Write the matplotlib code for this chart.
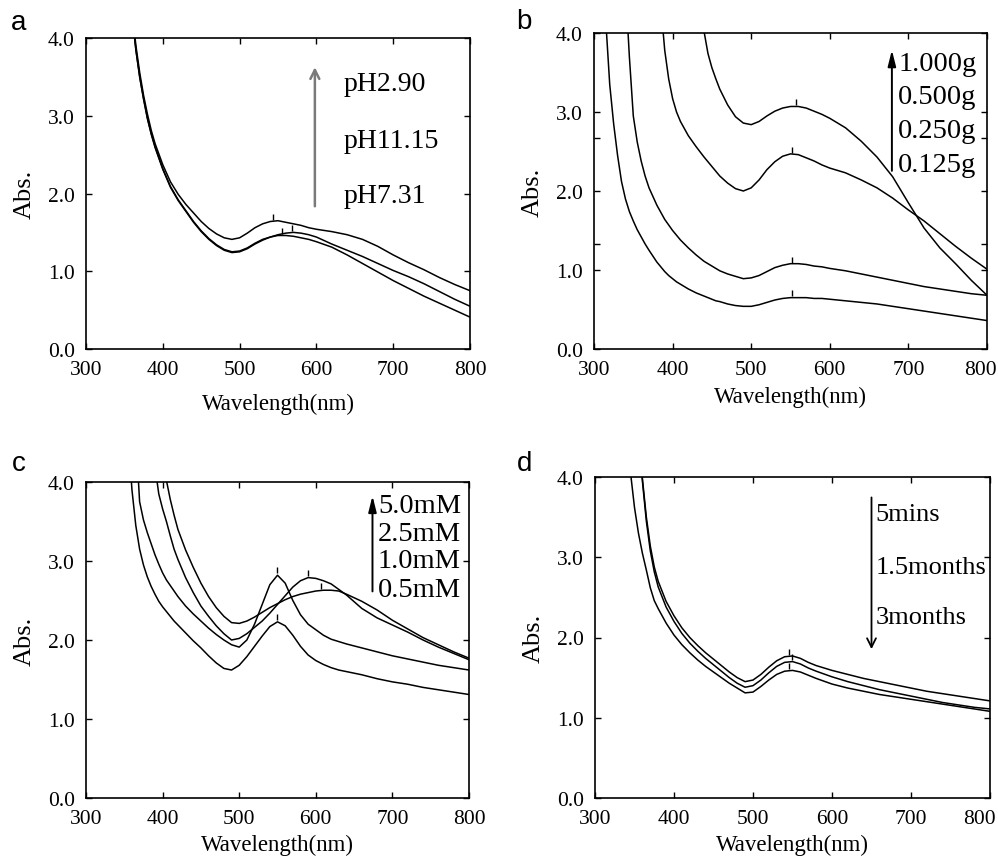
import numpy as np
import matplotlib
matplotlib.use("Agg")
import matplotlib.pyplot as plt
from matplotlib.transforms import ScaledTranslation

nan = np.nan

# ---- panel a: pH ----
wl_a = [360, 365, 370, 375, 380, 385, 390, 400, 410, 420, 430, 440, 450, 460, 470, 480, 490,
        500, 510, 520, 530, 540, 550, 560, 570, 580, 590, 600, 620, 640, 660, 680, 700, 720,
        740, 760, 780, 800]
abs_ph290 = [4.35, 3.90, 3.55, 3.26, 3.02, 2.81, 2.64, 2.37, 2.15, 1.99, 1.86, 1.75, 1.64, 1.55,
             1.48, 1.43, 1.41, 1.43, 1.49, 1.56, 1.61, 1.64, 1.65, 1.63, 1.61, 1.59, 1.56, 1.54,
             1.51, 1.47, 1.41, 1.32, 1.21, 1.11, 1.02, 0.92, 0.83, 0.75]
abs_ph1115 = [4.30, 3.85, 3.50, 3.22, 2.97, 2.77, 2.60, 2.32, 2.09, 1.92, 1.78, 1.64, 1.52, 1.42,
              1.34, 1.28, 1.25, 1.26, 1.30, 1.36, 1.41, 1.44, 1.47, 1.49, 1.50, 1.49, 1.47, 1.44,
              1.35, 1.27, 1.19, 1.10, 1.01, 0.93, 0.84, 0.74, 0.64, 0.55]
abs_ph731 = [4.30, 3.84, 3.49, 3.21, 2.96, 2.76, 2.59, 2.31, 2.08, 1.91, 1.77, 1.63, 1.51, 1.41,
             1.33, 1.27, 1.24, 1.25, 1.29, 1.35, 1.40, 1.44, 1.46, 1.46, 1.45, 1.43, 1.41, 1.38,
             1.31, 1.21, 1.10, 0.99, 0.88, 0.78, 0.68, 0.59, 0.50, 0.41]
labels_a = ["pH2.90", "pH11.15", "pH7.31"]
peak_a_wl = [544, 568, 555]
peak_a_abs = [1.65, 1.50, 1.46]

# ---- panel b: amount ----
wl_b = [310, 315, 320, 325, 330, 335, 340, 345, 350, 355, 360, 365, 370,
        380, 385, 390, 395, 400, 405, 410, 420, 430, 440,
        445, 450, 455, 460,
        470, 480, 490, 500, 510, 520, 530, 540, 550, 560, 570, 580, 590, 600,
        620, 640, 660, 680, 700, 720, 740, 760, 780, 800]
abs_g0125 = [nan, 4.15, 3.35, 2.85, 2.45, 2.12, 1.90, 1.74, 1.62, 1.51, 1.42, 1.33, 1.25,
             1.10, 1.04, 0.98, 0.93, 0.89, 0.85, 0.82, 0.76, 0.71, 0.67,
             0.65, 0.63, 0.61, 0.60,
             0.57, 0.55, 0.54, 0.54, 0.56, 0.59, 0.62, 0.64, 0.65, 0.65, 0.65, 0.64, 0.64, 0.63,
             0.61, 0.59, 0.57, 0.54, 0.51, 0.48, 0.45, 0.42, 0.39, 0.36]
abs_g0250 = [nan, nan, nan, nan, nan, nan, 4.60, 3.70, 2.95, 2.62, 2.38, 2.19, 2.04,
             1.82, 1.73, 1.64, 1.57, 1.50, 1.44, 1.38, 1.28, 1.19, 1.11,
             1.08, 1.05, 1.02, 0.99,
             0.95, 0.92, 0.89, 0.90, 0.93, 0.98, 1.03, 1.06, 1.08, 1.08, 1.07, 1.05, 1.04, 1.02,
             0.99, 0.95, 0.91, 0.87, 0.83, 0.79, 0.76, 0.73, 0.70, 0.68]
abs_g0500 = [nan, nan, nan, nan, nan, nan, nan, nan, nan, nan, nan, nan, nan,
             nan, 4.35, 3.78, 3.42, 3.17, 3.00, 2.88, 2.70, 2.56, 2.43,
             2.37, 2.31, 2.25, 2.19,
             2.10, 2.03, 2.00, 2.04, 2.14, 2.27, 2.37, 2.44, 2.47, 2.46, 2.42, 2.38, 2.33, 2.29,
             2.23, 2.14, 2.04, 1.91, 1.76, 1.62, 1.46, 1.30, 1.15, 1.01]
abs_g1000 = [nan, nan, nan, nan, nan, nan, nan, nan, nan, nan, nan, nan, nan,
             nan, nan, nan, nan, nan, nan, nan, nan, nan, 4.02,
             3.74, 3.56, 3.42, 3.29,
             3.09, 2.94, 2.86, 2.84, 2.88, 2.95, 3.01, 3.05, 3.07, 3.07, 3.05, 3.01, 2.97, 2.92,
             2.80, 2.63, 2.43, 2.18, 1.85, 1.53, 1.28, 1.08, 0.87, 0.68]
labels_b = ["1.000g", "0.500g", "0.250g", "0.125g"]
peak_b_wl = [557, 552, 552, 552]
peak_b_abs = [3.07, 2.47, 1.08, 0.65]

# ---- panel c: concentration ----
wl_c = [355, 360, 365, 370, 375, 380, 385, 390, 395, 400, 405, 410, 415, 420, 430, 440, 450, 460,
        470, 480, 490, 500, 510, 520, 530, 540, 550, 560, 570, 580, 590, 600, 610, 620, 630, 640,
        660, 680, 700, 720, 740, 760, 780, 800]
abs_05mM = [4.60, 3.90, 3.45, 3.15, 2.95, 2.80, 2.68, 2.58, 2.49, 2.42, 2.36, 2.30, 2.24, 2.19,
            2.09, 1.99, 1.90, 1.80, 1.71, 1.64, 1.62, 1.68, 1.79, 1.92, 2.05, 2.17, 2.23, 2.18,
            2.06, 1.92, 1.81, 1.74, 1.69, 1.65, 1.62, 1.60,
            1.56, 1.51, 1.47, 1.44, 1.40, 1.37, 1.34, 1.31]
abs_10mM = [nan, nan, 4.60, 3.75, 3.52, 3.36, 3.22, 3.08, 2.96, 2.85, 2.76, 2.69, 2.62, 2.55,
            2.43, 2.33, 2.24, 2.15, 2.07, 2.00, 1.94, 1.91, 2.00, 2.20, 2.45, 2.70, 2.82, 2.72,
            2.50, 2.32, 2.20, 2.13, 2.06, 2.01, 1.98, 1.95,
            1.90, 1.85, 1.80, 1.76, 1.72, 1.68, 1.65, 1.62]
abs_25mM = [nan, nan, nan, nan, nan, nan, nan, 4.20, 3.85, 3.66, 3.50, 3.32, 3.15, 3.02,
            2.79, 2.60, 2.43, 2.30, 2.18, 2.08, 2.00, 2.02, 2.08, 2.16, 2.24, 2.34, 2.45, 2.56,
            2.67, 2.75, 2.79, 2.78, 2.75, 2.71, 2.64, 2.57,
            2.40, 2.28, 2.19, 2.10, 2.00, 1.91, 1.83, 1.75]
abs_50mM = [nan, nan, nan, nan, nan, nan, nan, nan, nan, 4.50, 4.02, 3.78, 3.58, 3.40,
            3.14, 2.92, 2.72, 2.55, 2.41, 2.30, 2.22, 2.21, 2.24, 2.29, 2.35, 2.41, 2.46, 2.51,
            2.55, 2.58, 2.60, 2.62, 2.63, 2.63, 2.62, 2.58,
            2.49, 2.38, 2.25, 2.14, 2.03, 1.94, 1.85, 1.77]
labels_c = ["5.0mM", "2.5mM", "1.0mM", "0.5mM"]
peak_c_wl = [549, 549, 590, 607]
peak_c_abs = [2.24, 2.83, 2.79, 2.63]

# ---- panel d: storage time ----
wl_d = [340, 345, 350, 355, 360, 365, 370, 375, 380, 390, 400, 410, 420, 430, 440, 450, 460, 470,
        480, 490, 500, 510, 520, 530, 540, 550, 560, 570, 580, 600, 620, 640, 660, 680, 700, 720,
        740, 760, 780, 800]
abs_5mins = [nan, nan, nan, 4.60, 3.98, 3.50, 3.14, 2.88, 2.70,
             2.45, 2.27, 2.12, 2.00, 1.90, 1.81, 1.73, 1.65, 1.57, 1.50, 1.45, 1.47, 1.54, 1.63,
             1.71, 1.76, 1.77, 1.74, 1.69, 1.65,
             1.59, 1.54, 1.49, 1.45, 1.41, 1.37, 1.33, 1.30, 1.27, 1.24, 1.21]
abs_15months = [nan, nan, nan, 4.60, 3.95, 3.45, 3.08, 2.82, 2.63,
                2.38, 2.20, 2.05, 1.93, 1.83, 1.74, 1.66, 1.58, 1.50, 1.43, 1.38, 1.40, 1.47, 1.56,
                1.64, 1.69, 1.70, 1.67, 1.62, 1.58,
                1.51, 1.45, 1.40, 1.35, 1.31, 1.27, 1.23, 1.19, 1.16, 1.13, 1.11]
abs_3months = [4.80, 4.05, 3.62, 3.30, 3.05, 2.84, 2.62, 2.46, 2.36,
               2.18, 2.03, 1.91, 1.81, 1.72, 1.64, 1.57, 1.50, 1.43, 1.37, 1.31, 1.32, 1.39, 1.47,
               1.54, 1.58, 1.59, 1.57, 1.53, 1.49,
               1.42, 1.37, 1.33, 1.29, 1.26, 1.23, 1.20, 1.17, 1.14, 1.11, 1.08]
labels_d = ["5mins", "1.5months", "3months"]
peak_d_wl = [546, 549, 546]
peak_d_abs = [1.77, 1.70, 1.59]

x_ticks = [300, 400, 500, 600, 700, 800]
y_ticks = [0.0, 1.0, 2.0, 3.0, 4.0]

plt.rcParams["font.family"] = ["Liberation Serif", "DejaVu Serif"]

fig = plt.figure(figsize=(9.98, 8.62), dpi=100)
W, H = 998, 862


def add_axes(l, t, r, b):
    """pixel box (left, top, right, bottom) -> axes"""
    return fig.add_axes([l / W, 1 - b / H, (r - l) / W, (b - t) / H])


def style(ax, xpad=5, nudge_last=0):
    ax.set_xlim(300, 800)
    ax.set_ylim(0, 4.0)
    ax.set_xticks(x_ticks)
    ax.set_yticks(y_ticks)
    ax.set_yticklabels([f"{v:.1f}" for v in y_ticks])
    ax.tick_params(direction="in", top=True, right=True, length=4, width=1,
                   labelsize=15.5, pad=8)
    for s in ax.spines.values():
        s.set_linewidth(1.2)
    ax.set_xlabel("Wavelength(nm)", fontsize=16.5, labelpad=xpad)
    ax.set_ylabel("Abs.", fontsize=19, labelpad=9)
    if nudge_last:
        # the reference's right-most label sits a little left of its tick (figure edge)
        lab = ax.get_xticklabels()[-1]
        lab.set_transform(lab.get_transform() +
                          ScaledTranslation(-nudge_last / 100, 0, fig.dpi_scale_trans))


def curves(ax, wl, series, pk_wl, pk_abs):
    for ys in series:
        ax.plot(wl, ys, color="k", lw=1.1)
    up = ax.transData + ScaledTranslation(0, 3 / 72, fig.dpi_scale_trans)
    ax.plot(pk_wl, pk_abs, ls="none", marker="|", ms=5, mew=1.0, color="k", transform=up)


def letter(x, y, s):
    fig.text(x / W, 1 - y / H, s, fontsize=20, family=["Liberation Sans", "DejaVu Sans"],
             va="baseline", ha="left")


# a
ax = add_axes(86, 39, 470, 350)
curves(ax, wl_a, [abs_ph290, abs_ph1115, abs_ph731], peak_a_wl, peak_a_abs)
style(ax, xpad=10)
ax.annotate("", xy=(598, 3.66), xytext=(598, 1.80),
            arrowprops=dict(arrowstyle="->", color="#7a7a7a", lw=1.8, mutation_scale=16))
for s, y in zip(labels_a, [3.41, 2.68, 1.98]):
    ax.text(636, y, s, fontsize=20, va="center", ha="left")
letter(11, 30, "a")

# b
ax = add_axes(594, 34, 987, 350)
curves(ax, wl_b, [abs_g0125, abs_g0250, abs_g0500, abs_g1000], peak_b_wl, peak_b_abs)
style(ax, xpad=5, nudge_last=7)
ax.set_yticks([4 / 3, 8 / 3], minor=True)
ax.tick_params(which="minor", direction="in", right=True, length=4, width=1)
ax.annotate("", xy=(679, 3.82), xytext=(679, 2.22),
            arrowprops=dict(arrowstyle="-|>,head_width=0.15,head_length=0.6", color="k",
                            lw=1.4, mutation_scale=16))
for s, y in zip(labels_b, [3.62, 3.20, 2.77, 2.34]):
    ax.text(687, y, s, fontsize=20.5, va="center", ha="left")
letter(516, 29, "b")

# c
ax = add_axes(86, 483, 469, 799)
curves(ax, wl_c, [abs_05mM, abs_10mM, abs_25mM, abs_50mM], peak_c_wl, peak_c_abs)
style(ax, xpad=4)
ax.annotate("", xy=(674, 3.86), xytext=(674, 2.58),
            arrowprops=dict(arrowstyle="-|>,head_width=0.15,head_length=0.6", color="k",
                            lw=1.4, mutation_scale=16))
for s, y in zip(labels_c, [3.70, 3.35, 3.00, 2.64]):
    ax.text(681, y, s, fontsize=20.5, va="center", ha="left")
letter(12, 471, "c")

# d
ax = add_axes(595, 478, 990, 799)
curves(ax, wl_d, [abs_5mins, abs_15months, abs_3months], peak_d_wl, peak_d_abs)
style(ax, xpad=4, nudge_last=11)
ax.annotate("", xy=(650, 1.82), xytext=(650, 3.78),
            arrowprops=dict(arrowstyle="->", color="k", lw=1.3, mutation_scale=16))
for s, y in zip(labels_d, [3.54, 2.88, 2.26]):
    ax.text(655, y, s, fontsize=19, va="center", ha="left")
letter(517, 471, "d")

fig.savefig("out.png", dpi=100)
